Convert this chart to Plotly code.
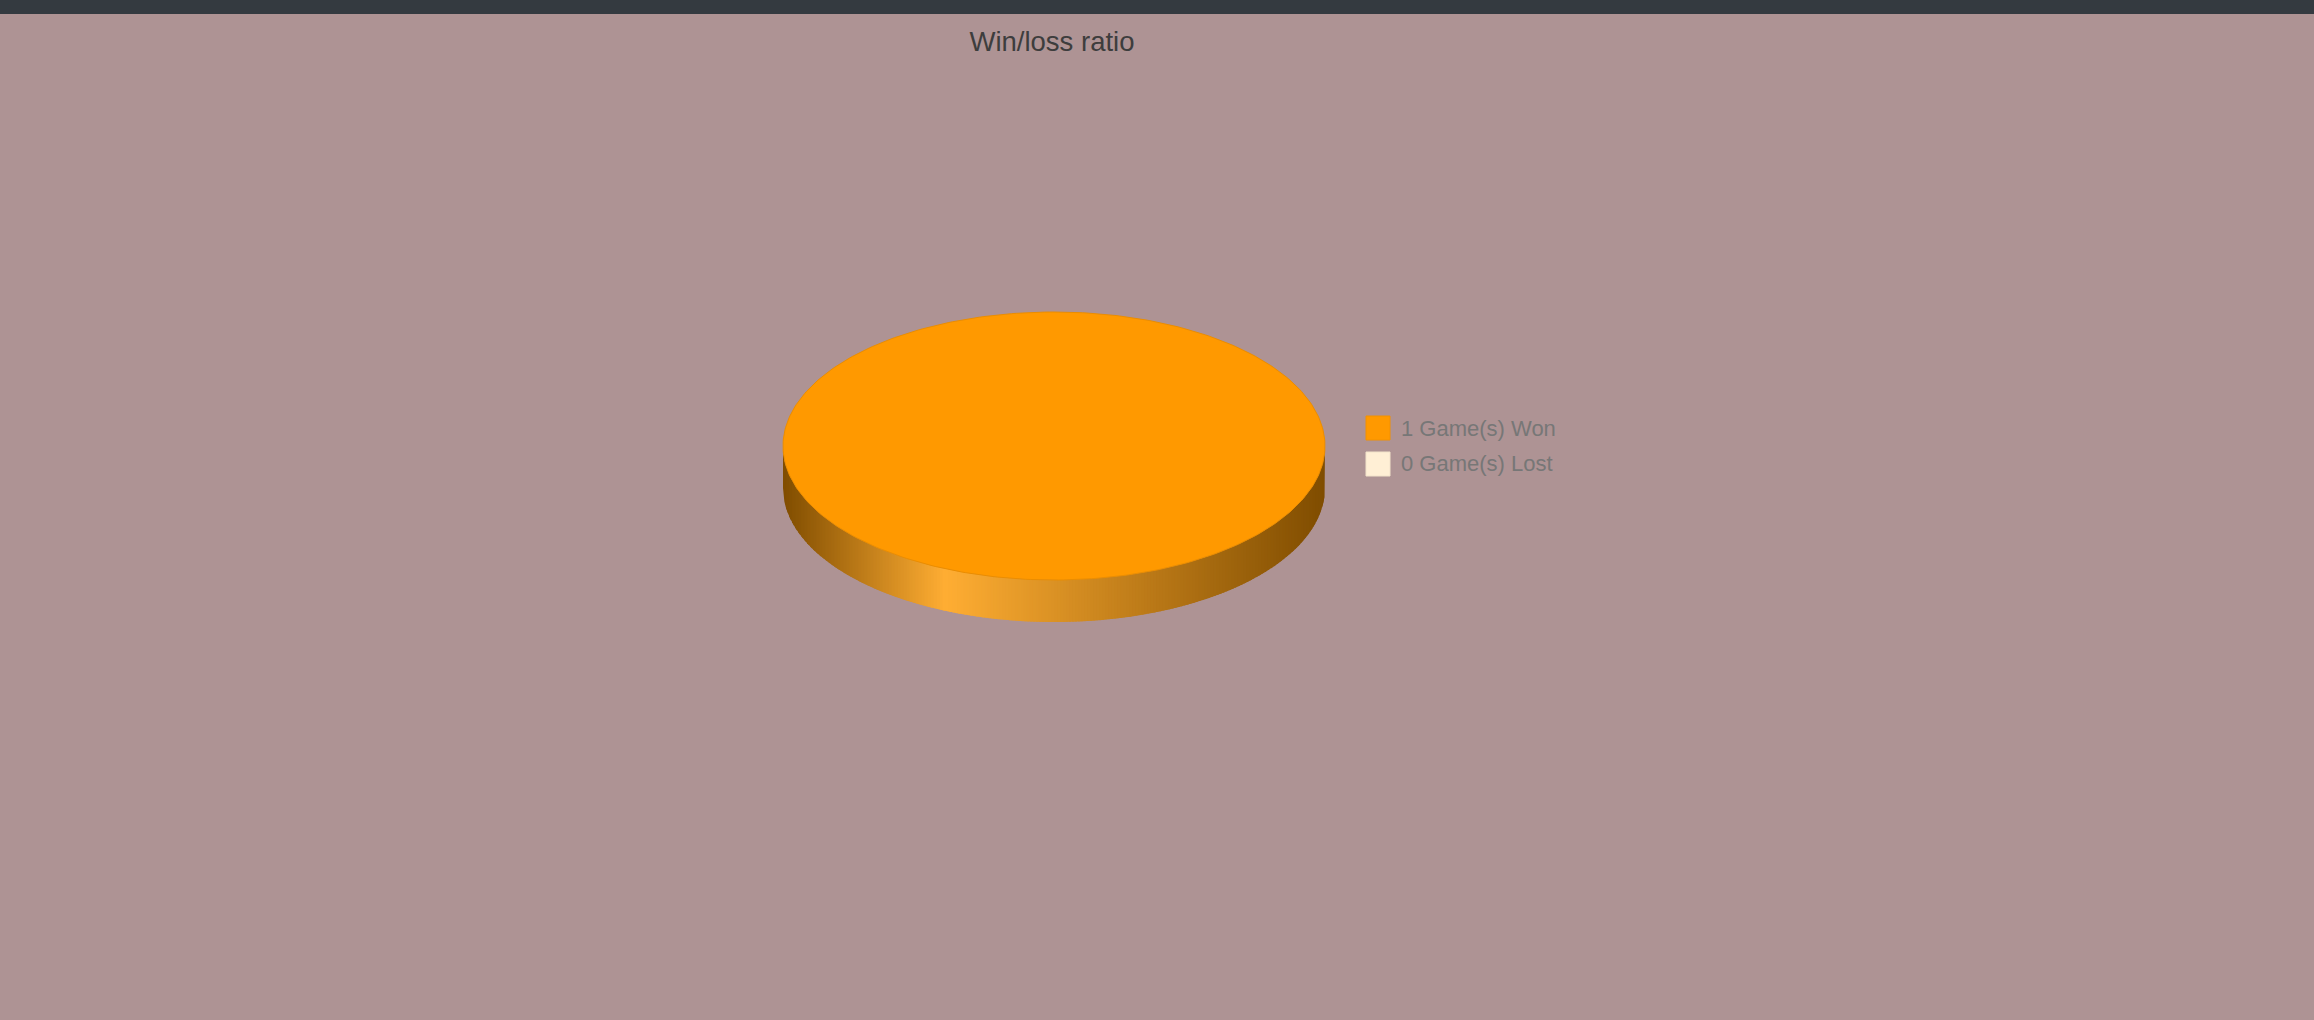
import numpy as np
import plotly.graph_objects as go

# ---------------- data ----------------
title_text = "Win/loss ratio"
categories = ["Won", "Lost"]
values = [1, 0]
slice_colors = ["#ff9900", "#ffefd5"]

# ---------------- layout constants ----------------
W, H = 2314, 1020
BG = "#ae9394"
NAV = "#343a40"
cx_px, cy_px = 1054, 446      # pie centre (pixels)
rx_px, ry_px = 271, 134       # ellipse radii (pixels)
depth_px = 42                 # 3D thickness (pixels)

xr = [-cx_px / rx_px, (W - cx_px) / rx_px]
yr = [-(H - cy_px) / ry_px, cy_px / ry_px]
depth = depth_px / ry_px


def hex2rgb(h):
    h = h.lstrip("#")
    return np.array([int(h[i:i + 2], 16) for i in (0, 2, 4)], dtype=float)


def rgbstr(c):
    c = np.clip(np.round(c), 0, 255).astype(int)
    return f"rgb({c[0]},{c[1]},{c[2]})"


def side_color(base, g):
    dark = base * 0.5
    light = base + (255 - base) * 0.2
    if g < 0.3:
        t = g / 0.3
        return dark + (light - dark) * t
    t = (g - 0.3) / 0.7
    return light + (dark - light) * t


total = float(sum(values))
fracs = [v / total for v in values]
cum = np.concatenate([[0], np.cumsum(fracs)])


def slice_at(frac):
    for i in range(len(values)):
        if fracs[i] > 0 and cum[i] <= frac < cum[i + 1] + 1e-12:
            return i
    return 0


fig = go.Figure()

# ---- side band (gradient strips) ----
N = 180
edges = np.linspace(-1, 1, N + 1)
for k in range(N):
    xa, xb = edges[k], edges[k + 1]
    xb2 = min(xb + (xb - xa) * 0.8, 1.0)
    m = 0.5 * (xa + xb)
    t = -np.arccos(m)
    frac = ((90 - np.degrees(t)) % 360) / 360
    i = slice_at(frac)
    base = hex2rgb(slice_colors[i])
    col = rgbstr(side_color(base, (m + 1) / 2))
    xs = np.linspace(xa, xb2, 5)
    top = -np.sqrt(np.clip(1 - xs ** 2, 0, None))
    bot = top - depth
    px = np.concatenate([xs, xs[::-1], xs[:1]])
    py = np.concatenate([top, bot[::-1], top[:1]])
    fig.add_trace(go.Scatter(x=px, y=py, mode="lines", fill="toself",
                             fillcolor=col, line=dict(width=0, color=col),
                             hoverinfo="skip", showlegend=False))

# ---- top face slices ----
for i, (cat, f) in enumerate(zip(categories, fracs)):
    if f <= 0:
        continue
    a0 = np.radians(90 - 360 * cum[i])
    a1 = np.radians(90 - 360 * cum[i + 1])
    ang = np.linspace(a0, a1, 361)
    if f >= 0.9999:
        px, py = np.cos(ang), np.sin(ang)
    else:
        px = np.concatenate([[0], np.cos(ang), [0]])
        py = np.concatenate([[0], np.sin(ang), [0]])
    base = hex2rgb(slice_colors[i])
    fig.add_trace(go.Scatter(x=px, y=py, mode="lines", fill="toself",
                             fillcolor=slice_colors[i],
                             line=dict(width=1, color=rgbstr(base * 0.92)),
                             name=f"{values[i]} Game(s) {cat}",
                             hoverinfo="name", showlegend=False))

# ---- legend (custom, Google-chart style) ----
shapes = [dict(type="rect", xref="paper", yref="paper", x0=0, x1=1,
               y0=1 - 14 / H, y1=1, fillcolor=NAV, line=dict(width=0), layer="above")]
annotations = []
lx, ly0, sw, gap = 1366, 416, 24, 36
for i, cat in enumerate(categories):
    y_top = ly0 + i * gap
    base = hex2rgb(slice_colors[i])
    shapes.append(dict(type="rect", xref="paper", yref="paper",
                       x0=lx / W, x1=(lx + sw) / W,
                       y0=1 - (y_top + sw) / H, y1=1 - y_top / H,
                       fillcolor=slice_colors[i],
                       line=dict(width=1, color=rgbstr(base * 0.95))))
    annotations.append(dict(xref="paper", yref="paper", x=(lx + sw + 9) / W,
                            y=1 - (y_top + sw / 2) / H, xanchor="left", yanchor="middle",
                            text=f"{values[i]} Game(s) {cat}", showarrow=False,
                            font=dict(family="Arial, Liberation Sans, sans-serif",
                                      size=22, color="#777777")))

fig.update_layout(
    width=W, height=H,
    margin=dict(l=0, r=0, t=0, b=0),
    paper_bgcolor=BG, plot_bgcolor=BG,
    title=dict(text=title_text, x=1052 / W, xanchor="center",
               y=1 - 41.5 / H, yanchor="middle",
               font=dict(family="Arial, Liberation Sans, sans-serif", size=27.5, color="#3d3d3d")),
    xaxis=dict(range=xr, visible=False, fixedrange=True),
    yaxis=dict(range=yr, visible=False, fixedrange=True),
    shapes=shapes, annotations=annotations,
    showlegend=False,
)

fig.write_html("out.html", post_script="document.body.style.margin='0';")
